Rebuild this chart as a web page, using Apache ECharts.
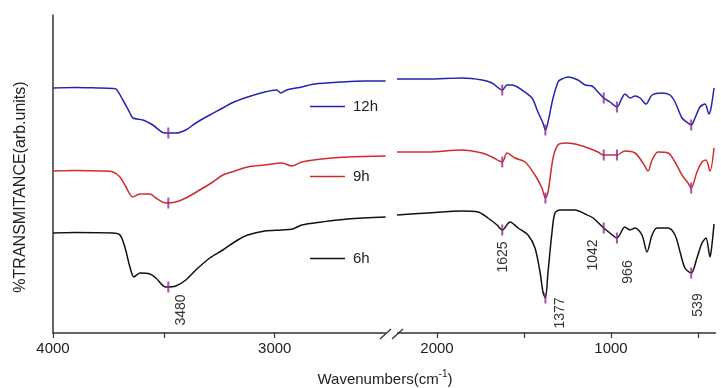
<!DOCTYPE html>
<html><head><meta charset="utf-8">
<script src="https://cdn.jsdelivr.net/npm/echarts@6/dist/echarts.min.js"></script>
<style>html,body{margin:0;padding:0;background:#fff}#c{width:721px;height:388px}</style>
</head><body><div id="c"></div><script>
// ---------- data (wavenumber, transmittance in arbitrary offset units) ----------
const seriesNames = ['12h', '9h', '6h'];
const seriesColors = ['#2424b0', '#d02c2c', '#111111'];

const blueLeft = [[4000,245],[3900,245.5],[3800,245],[3730,244.5],[3716,244],[3685,233],[3653,220],[3640,215],[3595,213],[3550,208],[3495,200],[3446,200],[3401,203],[3356,210],[3293,218],[3234,225],[3194,230],[3122,236],[3045,241],[2991,243],[2973,240],[2946,243],[2878,246],[2820,249],[2698,251],[2595,252],[2500,252]];
const redLeft = [[4000,162],[3900,162.5],[3775,162],[3730,161],[3698,156],[3671,146],[3640,136],[3608,139],[3563,139],[3536,135],[3491,130],[3446,131],[3401,135],[3338,143],[3279,151],[3234,158],[3194,161],[3122,166],[3045,168],[2968,170],[2923,167],[2878,171],[2788,174],[2671,176],[2500,177]];
const blackLeft = [[4000,100],[3900,100.5],[3730,100],[3698,98],[3676,86],[3653,66],[3635,56],[3608,60],[3563,59],[3536,55],[3491,46],[3446,47],[3401,53],[3356,63],[3293,75],[3234,83],[3167,93],[3122,98],[3045,102],[2968,103],[2919,104],[2878,108],[2788,111],[2671,114],[2500,116]];

const blueRight = [[2230,254],[2052,254],[1856,255],[1741,253],[1684,250],[1625,243],[1598,248],[1569,248],[1512,243],[1454,235],[1420,221],[1391,210],[1377,203],[1362,211],[1333,235],[1305,251],[1293,253],[1247,256],[1190,253],[1149,248],[1109,247],[1075,241],[1042,235],[1006,231],[966,226],[937,235],[920,239],[891,235],[862,237],[833,235],[799,229],[764,238],[707,240],[661,238],[632,231],[592,215],[557,210],[539,208],[517,215],[489,226],[460,229],[437,219],[425,225],[408,245]];
const redRight = [[2230,181],[2052,181],[1856,183],[1741,180],[1684,176],[1625,171],[1598,180],[1552,175],[1494,171],[1437,158],[1397,145],[1377,135],[1362,141],[1333,175],[1305,188],[1264,190],[1207,189],[1132,185],[1075,181],[1042,178],[966,178],[920,182],[862,180],[816,170],[787,162],[764,173],[730,181],[672,180],[632,171],[592,158],[557,150],[539,145],[506,161],[477,171],[454,173],[431,162],[408,185]];
const blackRight = [[2230,118],[2052,120],[1856,122],[1764,121],[1707,115],[1655,108],[1625,103],[1580,111],[1534,105],[1477,98],[1437,85],[1408,61],[1391,41],[1377,35],[1362,61],[1339,101],[1322,120],[1293,123],[1207,123],[1149,119],[1103,115],[1042,105],[1006,100],[966,95],[920,106],[891,103],[862,105],[822,98],[793,81],[764,98],[736,105],[672,105],[632,98],[603,81],[575,65],[539,60],[506,75],[477,90],[454,95],[431,76],[420,88],[408,109]];

const peakWavenumbers = [3480, 1625, 1377, 1042, 966, 539];
const peakLabels = ['3480', '1625', '1377', '1042', '966', '539'];
const bluePeaks = [200, 243, 203, 235, 226, 208];
const redPeaks = [130, 171, 135, 178, 178, 145];
const blackPeaks = [46, 103, 35, 105, 95, 60];

const leftTicks = [4000, 3500, 3000];
const leftTickLabels = [4000, 3000];
const rightTicks = [2000, 1500, 1000, 500];
const rightTickLabels = [2000, 1000];

// ---------- layout / style ----------
const FONT = '"Liberation Sans", Arial, Helvetica, sans-serif';
const AXIS_COLOR = '#333';
const MARK_COLOR = '#8a2a8c';
const legendCenters = [107, 177, 259];
const labelOffsets = [[13,23],[1,27],[15,15],[-11,27],[11,34],[7,32]];

const leftData = [blueLeft, redLeft, blackLeft];
const rightData = [blueRight, redRight, blackRight];
const peakValues = [bluePeaks, redPeaks, blackPeaks];

const chart = echarts.init(document.getElementById('c'), null, {renderer: 'canvas'});

function xAxisCfg(gi, min, max, ticks, labels) {
  return {
    gridIndex: gi, type: 'value', min: min, max: max, inverse: true,
    axisLine: {show: true, onZero: false, lineStyle: {color: AXIS_COLOR, width: 1.5}},
    axisTick: {show: true, customValues: ticks, length: 5, inside: false, lineStyle: {color: AXIS_COLOR, width: 1.2}},
    axisLabel: {show: true, customValues: labels, fontSize: 15, color: '#222', fontFamily: FONT, margin: 8,
      formatter: v => String(v)},
    splitLine: {show: false}
  };
}
function yAxisCfg(gi, showLine) {
  return {
    gridIndex: gi, type: 'value', min: 0, max: 318,
    axisLine: {show: showLine, lineStyle: {color: AXIS_COLOR, width: 1.5}},
    axisTick: {show: false}, axisLabel: {show: false}, splitLine: {show: false}
  };
}

const series = [];
seriesNames.forEach((name, i) => {
  [leftData[i], rightData[i]].forEach((d, gi) => {
    series.push({
      name: name, type: 'line', xAxisIndex: gi, yAxisIndex: gi, data: d,
      showSymbol: false, symbol: 'none', smooth: 0.3, color: seriesColors[i],
      lineStyle: {width: 1.5, color: seriesColors[i]}, z: 2
    });
  });
});
seriesNames.forEach((name, i) => {
  [0, 1].forEach(gi => {
    const pts = [];
    peakWavenumbers.forEach((w, k) => {
      if ((gi === 0) === (w > 2300)) pts.push([w, peakValues[i][k]]);
    });
    series.push({
      name: 'peaks-' + name, type: 'scatter', xAxisIndex: gi, yAxisIndex: gi, data: pts,
      symbol: 'rect', symbolSize: [2, 11], itemStyle: {color: MARK_COLOR}, z: 5, silent: true
    });
  });
});

const legends = seriesNames.map((n, i) => ({
  data: [n], left: 310, top: legendCenters[i] - 8, padding: 0,
  icon: 'rect', itemWidth: 35, itemHeight: 1.5, selectedMode: false,
  textStyle: {fontSize: 15, color: '#222', fontFamily: FONT, padding: [0, 0, 0, 3]}
}));

chart.setOption({
  animation: false,
  backgroundColor: '#fff',
  grid: [
    {left: 53, right: 335.4, top: 15, bottom: 55},
    {left: 397, right: 5.6, top: 15, bottom: 55}
  ],
  xAxis: [
    xAxisCfg(0, 2500, 4000, leftTicks, leftTickLabels),
    xAxisCfg(1, 400, 2230, rightTicks, rightTickLabels)
  ],
  yAxis: [yAxisCfg(0, true), yAxisCfg(1, false)],
  legend: legends,
  series: series
});

// ---------- annotations ----------
const graphics = [];
peakWavenumbers.forEach((w, i) => {
  const gi = w > 2300 ? 0 : 1;
  const p = chart.convertToPixel({gridIndex: gi}, [w, blackPeaks[i]]);
  graphics.push({
    type: 'text', x: p[0] + labelOffsets[i][0], y: p[1] + labelOffsets[i][1], rotation: Math.PI / 2,
    style: {text: peakLabels[i], fontSize: 14, fontFamily: FONT, fill: '#333', align: 'center', verticalAlign: 'middle'}
  });
});
graphics.push({
  type: 'text', x: 21, y: 187, rotation: Math.PI / 2,
  style: {text: '%TRANSMITANCE(arb.units)', fontSize: 16, fontFamily: FONT, fill: '#222', align: 'center', verticalAlign: 'middle'}
});
graphics.push({
  type: 'text', x: 385, y: 378,
  style: {
    text: '{a|Wavenumbers(cm}{s|-1}{a|)}', align: 'center', verticalAlign: 'middle',
    rich: {
      a: {fontSize: 15, fontFamily: FONT, fill: '#222', lineHeight: 18, verticalAlign: 'bottom'},
      s: {fontSize: 10, fontFamily: FONT, fill: '#222', verticalAlign: 'top'}
    }
  }
});
// axis break marks
graphics.push({type: 'rect', shape: {x: 386, y: 329, width: 11, height: 8}, style: {fill: '#fff'}, z: 10});
graphics.push({type: 'line', shape: {x1: 380, y1: 339, x2: 391, y2: 329}, style: {stroke: AXIS_COLOR, lineWidth: 1.3}, z: 11});
graphics.push({type: 'line', shape: {x1: 392, y1: 339, x2: 403, y2: 329}, style: {stroke: AXIS_COLOR, lineWidth: 1.3}, z: 11});

chart.setOption({graphic: graphics});
</script></body></html>
